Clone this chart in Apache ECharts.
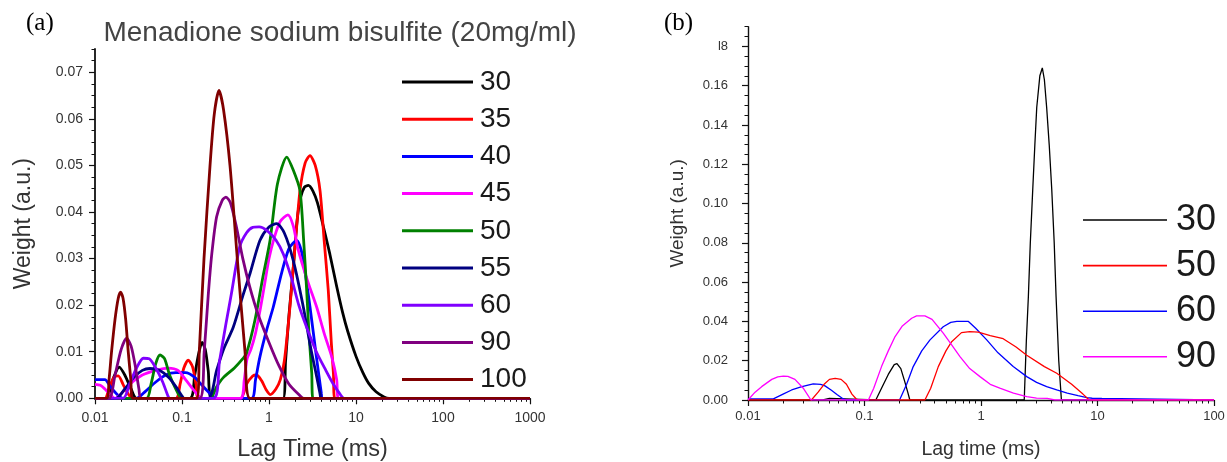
<!DOCTYPE html>
<html>
<head>
<meta charset="utf-8">
<script src="https://cdn.jsdelivr.net/npm/echarts@6/dist/echarts.min.js"></script>
<style>
  html, body { margin: 0; padding: 0; background: #ffffff; }
  #wrap { position: relative; width: 1227px; height: 462px; overflow: hidden; }
  #chartA { position: absolute; left: 0; top: 0; width: 614px; height: 462px; }
  #chartB { position: absolute; left: 614px; top: 0; width: 613px; height: 462px; }
</style>
</head>
<body>
<div id="wrap">
  <div id="chartA"></div>
  <div id="chartB"></div>
</div>
<script>
// ---------- Panel (a): weight distributions, pairs of [lag time (ms), weight] ----------
const namesA = ['30', '35', '40', '45', '50', '55', '60', '90', '100'];
const colorsA = ['#000000', '#ff0000', '#0000ff', '#ff00ff', '#008000', '#000080', '#8000ff', '#800080', '#800000'];

const a30 = [[0.01,0],[0.0135,0],[0.016,0.004],[0.019,0.0067],[0.022,0.005],[0.026,0.002],[0.03,0],
  [0.123,0],[0.14,0.005],[0.155,0.0095],[0.17,0.012],[0.185,0.0105],[0.2,0.006],[0.22,0],
  [1.45,0],[1.55,0.008],[1.7,0.018],[1.9,0.028],[2.1,0.038],[2.3,0.043],[2.55,0.0453],[2.83,0.0457],
  [3.2,0.0445],[3.6,0.042],[4.2,0.037],[5.0,0.031],[6.0,0.024],[7.0,0.0185],[8.0,0.0145],[10,0.009],
  [12,0.0055],[14,0.0032],[17,0.0014],[21,0.0003],[24,0],[1000,0]];
const a35 = [[0.01,0],[0.013,0],[0.0145,0.002],[0.0165,0.0045],[0.0185,0.0048],[0.021,0.003],[0.024,0.001],[0.027,0],
  [0.085,0],[0.095,0.003],[0.105,0.0065],[0.118,0.0082],[0.132,0.0068],[0.145,0.003],[0.155,0],
  [0.47,0],[0.55,0.003],[0.65,0.0048],[0.72,0.005],[0.82,0.0038],[0.93,0.0018],[1.03,0.0008],
  [1.2,0.002],[1.35,0.004],[1.5,0.008],[1.74,0.0196],[2.0,0.033],[2.27,0.0446],[2.6,0.0505],[2.96,0.0521],
  [3.4,0.05],[3.86,0.0446],[4.3,0.034],[4.8,0.0232],[5.2,0.012],[5.5,0.0054],[5.7,0],[1000,0]];
const a40 = [[0.01,0.004],[0.013,0.004],[0.015,0.0025],[0.018,0.0008],[0.021,0],[0.03,0],
  [0.038,0.0015],[0.05,0.0035],[0.065,0.005],[0.085,0.0055],[0.11,0.0055],[0.14,0.0045],[0.17,0.0028],[0.21,0.001],[0.25,0],
  [0.63,0],[0.7,0.004],[0.786,0.0089],[0.95,0.015],[1.12,0.0196],[1.4,0.027],[1.7,0.0322],[2.08,0.0339],
  [2.4,0.031],[2.96,0.0196],[3.5,0.009],[4.0,0.001],[4.1,0],[1000,0]];
const a45 = [[0.01,0.003],[0.0115,0.0028],[0.013,0.002],[0.015,0.0008],[0.017,0],[0.02,0.001],[0.025,0.003],
  [0.035,0.005],[0.05,0.006],[0.07,0.0065],[0.09,0.006],[0.11,0.004],[0.14,0.0015],[0.17,0],
  [0.47,0],[0.52,0.004],[0.56,0.0085],[0.62,0.0105],[0.7,0.014],[0.8,0.0195],[0.9,0.025],[1.0,0.03],
  [1.15,0.0345],[1.35,0.038],[1.65,0.0394],[1.9,0.037],[2.17,0.0318],[2.8,0.025],[3.53,0.0196],
  [4.3,0.014],[5.26,0.0089],[6.0,0.004],[6.3,0],[1000,0]];
const a50 = [[0.01,0],[0.039,0],[0.044,0.003],[0.05,0.0075],[0.056,0.0093],[0.063,0.0085],[0.072,0.005],[0.085,0.002],[0.1,0],
  [0.21,0],[0.25,0.0025],[0.3,0.0045],[0.4,0.0065],[0.5,0.0085],[0.55,0.0096],[0.69,0.0168],[0.85,0.026],
  [1.03,0.034],[1.25,0.046],[1.6,0.0518],[1.9,0.049],[2.27,0.0446],[2.5,0.034],[2.71,0.0232],
  [2.9,0.013],[3.1,0.0054],[3.2,0],[1000,0]];
const a55 = [[0.01,0],[0.0174,0],[0.022,0.002],[0.028,0.0045],[0.035,0.006],[0.043,0.0064],[0.055,0.006],
  [0.07,0.0045],[0.085,0.0025],[0.1,0.0005],[0.106,0],
  [0.2,0],[0.25,0.006],[0.3,0.0105],[0.389,0.0153],[0.5,0.022],[0.605,0.0268],[0.786,0.0339],[1.0,0.0368],
  [1.226,0.0375],[1.5,0.0355],[1.9,0.0296],[2.48,0.0196],[3.0,0.011],[3.5,0.005],[3.86,0.001],[4.0,0],[1000,0]];
const a60 = [[0.01,0],[0.021,0],[0.025,0.003],[0.03,0.0065],[0.036,0.0086],[0.042,0.0085],[0.05,0.0065],
  [0.06,0.0035],[0.069,0.0005],[0.072,0],
  [0.23,0],[0.27,0.008],[0.32,0.016],[0.37,0.0225],[0.46,0.0325],[0.55,0.0355],[0.65,0.0367],[0.77,0.0368],
  [0.95,0.036],[1.2,0.034],[1.46,0.031],[1.8,0.026],[2.2,0.02],[2.7,0.0153],[3.5,0.01],[4.5,0.006],
  [5.5,0.003],[6.5,0.001],[7.3,0],[1000,0]];
const a90 = [[0.01,0],[0.0145,0],[0.017,0.005],[0.02,0.0105],[0.0231,0.0129],[0.026,0.0112],[0.029,0.007],[0.032,0.002],[0.034,0],
  [0.16,0],[0.18,0.01],[0.2,0.022],[0.22,0.031],[0.25,0.039],[0.29,0.0425],[0.32,0.0432],[0.36,0.042],
  [0.42,0.037],[0.5,0.03],[0.6,0.024],[0.75,0.018],[1.0,0.012],[1.3,0.007],[1.7,0.003],[2.2,0.0008],[2.5,0],[1000,0]];
const a100 = [[0.01,0],[0.0136,0],[0.0145,0.004],[0.0155,0.01],[0.017,0.017],[0.0185,0.0215],[0.0197,0.0228],
  [0.021,0.0215],[0.0225,0.017],[0.0241,0.01],[0.0258,0.004],[0.0271,0],
  [0.1476,0],[0.158,0.01],[0.179,0.03],[0.21,0.05],[0.235,0.061],[0.266,0.0661],[0.3,0.062],
  [0.356,0.05],[0.432,0.03],[0.53,0.01],[0.605,0],[1000,0]];
const dataA = [a30, a35, a40, a45, a50, a55, a60, a90, a100];

const xTickLabelsA = ['0.01', '0.1', '1', '10', '100', '1000'];
const yTickLabelsA = ['0.00', '0.01', '0.02', '0.03', '0.04', '0.05', '0.06', '0.07'];

// ---------- Panel (b) ----------
const namesB = ['30', '50', '60', '90'];
const colorsB = ['#000000', '#ff0000', '#0000ff', '#ff00ff'];

const b30 = [[0.01,0],[0.044,0],[0.045,0.0008],[0.05,0.0008],[0.051,0],
  [0.125,0],[0.14,0.006],[0.16,0.013],[0.18,0.018],[0.19,0.0185],[0.205,0.016],[0.22,0.01],[0.235,0.004],[0.245,0],
  [2.35,0],[2.45,0.03],[2.55,0.0526],[2.65,0.08],[2.78,0.107],[2.9,0.13],[3.01,0.149],[3.2,0.165],[3.36,0.169],
  [3.5,0.163],[3.66,0.149],[3.85,0.13],[4.05,0.107],[4.25,0.08],[4.41,0.0526],[4.65,0.02],[4.9,0],[100,0]];
const b50 = [[0.01,0],[0.035,0],[0.04,0.004],[0.045,0.008],[0.05,0.0105],[0.056,0.011],[0.063,0.0105],[0.07,0.008],
  [0.078,0.003],[0.085,0.0005],[0.09,0],
  [0.33,0],[0.37,0.006],[0.43,0.017],[0.5,0.025],[0.56,0.0297],[0.68,0.0343],[0.8,0.0348],[0.95,0.0345],
  [1.2,0.0328],[1.55,0.0312],[2.0,0.027],[2.47,0.0228],[3.5,0.017],[4.47,0.0136],[6.0,0.008],[7.5,0.003],[8.5,0],[100,0]];
const b60 = [[0.01,0.0005],[0.0165,0.0006],[0.02,0.003],[0.0237,0.0051],[0.029,0.0068],[0.0363,0.0082],[0.042,0.008],
  [0.0458,0.0072],[0.052,0.005],[0.058,0.0028],[0.064,0.001],[0.07,0],
  [0.2,0],[0.23,0.008],[0.262,0.017],[0.31,0.025],[0.365,0.0306],[0.474,0.0373],[0.55,0.0395],[0.62,0.04],
  [0.78,0.04],[0.9,0.0365],[1.12,0.0306],[1.4,0.024],[1.89,0.017],[2.47,0.0119],[3.0,0.009],[3.66,0.0068],
  [4.47,0.0051],[5.5,0.0035],[6.8,0.0022],[8.1,0.0012],[9,0.0009],[10.9,0.0008],[11,0],[100,0]];
const b90 = [[0.01,0],[0.0115,0.004],[0.0131,0.0068],[0.016,0.0105],[0.018,0.0118],[0.0201,0.0122],[0.022,0.012],
  [0.0253,0.0105],[0.0298,0.006],[0.0347,0],
  [0.108,0],[0.12,0.006],[0.14,0.017],[0.16,0.025],[0.183,0.0323],[0.21,0.0375],[0.254,0.0416],[0.28,0.0428],
  [0.33,0.0428],[0.38,0.041],[0.474,0.034],[0.56,0.028],[0.66,0.0221],[0.8,0.016],[0.98,0.0119],[1.2,0.008],
  [1.45,0.006],[1.9,0.0035],[2.47,0.0017],[3,0.001],[3.7,0.0008],[4.3,0],[100,0]];
const dataB = [b30, b50, b60, b90];
// stacking order of the lines (last one on top)
const drawOrderB = [0, 2, 1, 3];

const xTickLabelsB = ['0.01', '0.1', '1', '10', '100'];
const yTickValuesB = [0, 0.02, 0.04, 0.06, 0.08, 0.10, 0.12, 0.14, 0.16, 0.18];
const yTickLabelsB = ['0.00', '0.02', '0.04', '0.06', '0.08', '0.10', '0.12', '0.14', '0.16', 'l8'];

// ---------- helpers ----------
const SANS = '"Liberation Sans", Arial, sans-serif';
const SERIF = '"Liberation Serif", "DejaVu Serif", serif';
const AXIS_COLOR = '#111111';
const TEXT_COLOR = '#333333';

// minor ticks 2..9 within each decade, expressed as log10 for a companion linear axis
function logMinorTicks(fromExp, toExp) {
  const out = [];
  for (let e = fromExp; e < toExp; e++) {
    for (let k = 2; k <= 9; k++) out.push(Math.log10(k) + e);
  }
  return out;
}
function linearMinorTicks(step, sub, max) {
  const out = [];
  const n = Math.floor(max / (step / sub) + 1e-6);
  for (let i = 1; i <= n; i++) {
    if (i % sub !== 0) out.push(+(i * step / sub).toFixed(6));
  }
  return out;
}
function decadeLabel(labels, minExp) {
  return v => labels[Math.round(Math.log10(v)) - minExp] || '';
}

function buildOption(p) {
  const series = p.order.map(i => ({
    name: p.names[i],
    type: 'line',
    data: p.data[i],
    symbol: 'none',
    showSymbol: false,
    smooth: p.smooth,
    lineStyle: { color: p.colors[i], width: p.lineWidth },
    itemStyle: { color: p.colors[i] },
    emphasis: { disabled: true },
    xAxisIndex: 0,
    yAxisIndex: 0,
    z: 3
  }));
  return {
    animation: false,
    backgroundColor: '#ffffff',
    textStyle: { fontFamily: SANS },
    grid: { left: p.grid.left, top: p.grid.top, width: p.grid.width, height: p.grid.height, containLabel: false, outerBoundsMode: 'none' },
    graphic: p.graphic,
    legend: {
      orient: 'vertical',
      left: p.legend.left,
      top: p.legend.top,
      padding: 0,
      icon: 'rect',
      itemWidth: p.legend.itemWidth,
      itemHeight: p.legend.lineWidth,
      itemGap: p.legend.itemGap,
      selectedMode: false,
      data: p.names,
      textStyle: { fontSize: p.legend.fontSize, lineHeight: p.legend.rowHeight, color: '#1a1a1a', fontFamily: SANS, padding: [0, 0, 0, p.legend.textPad] }
    },
    xAxis: [{
      type: 'log', logBase: 10, min: p.x.min, max: p.x.max,
      axisLine: { show: true, onZero: false, lineStyle: { color: AXIS_COLOR, width: p.axisWidth } },
      axisTick: { show: true, inside: false, length: 6, lineStyle: { color: AXIS_COLOR, width: 1.2 } },
      axisLabel: { formatter: decadeLabel(p.x.labels, p.x.minExp), margin: p.x.labelMargin, fontSize: p.x.fontSize, color: TEXT_COLOR, fontFamily: SANS },
      splitLine: { show: false },
      minorTick: { show: false },
      name: p.x.name, nameLocation: 'middle', nameGap: p.x.nameGap,
      nameTextStyle: { fontSize: p.x.nameSize, color: TEXT_COLOR, fontFamily: SANS }
    }, {
      type: 'value', min: p.x.minExp, max: p.x.minExp + p.x.labels.length - 1, position: 'bottom', offset: 0,
      axisLine: { show: false, onZero: false }, axisLabel: { show: false }, splitLine: { show: false },
      axisTick: { show: true, inside: false, length: 3.5, customValues: logMinorTicks(p.x.minExp, p.x.minExp + p.x.labels.length - 1), lineStyle: { color: AXIS_COLOR, width: 1 } }
    }],
    yAxis: [{
      type: 'value', min: 0, max: p.y.max, interval: p.y.step,
      axisLine: { show: true, onZero: false, lineStyle: { color: AXIS_COLOR, width: p.axisWidth } },
      axisTick: { show: true, inside: false, length: 6, customValues: p.y.values, lineStyle: { color: AXIS_COLOR, width: 1.2 } },
      axisLabel: { customValues: p.y.values, formatter: v => p.y.labels[p.y.values.findIndex(t => Math.abs(t - v) < 1e-9)] || '', margin: p.y.labelMargin, fontSize: p.y.fontSize, color: TEXT_COLOR, fontFamily: SANS },
      splitLine: { show: false },
      name: p.y.name, nameLocation: 'middle', nameGap: p.y.nameGap, nameRotate: 90,
      nameTextStyle: { fontSize: p.y.nameSize, color: TEXT_COLOR, fontFamily: SANS }
    }, {
      type: 'value', min: 0, max: p.y.max, position: 'left', offset: 0,
      axisLine: { show: false, onZero: false }, axisLabel: { show: false }, splitLine: { show: false },
      axisTick: { show: true, inside: false, length: 3.5, customValues: linearMinorTicks(p.y.step, 4, p.y.max), lineStyle: { color: AXIS_COLOR, width: 1 } }
    }],
    series
  };
}

// ---------- panel (a) ----------
const chartA = echarts.init(document.getElementById('chartA'), null, { renderer: 'canvas' });
chartA.setOption(buildOption({
  names: namesA, colors: colorsA, data: dataA, order: namesA.map((_, i) => i),
  smooth: 0.25, lineWidth: 2.8, axisWidth: 1.8,
  grid: { left: 95, top: 49, width: 435, height: 349.3 },
  legend: { left: 402, top: 67, itemWidth: 71, lineWidth: 3, rowHeight: 30, itemGap: 7.2, fontSize: 28, textPad: 2 },
  x: { min: 0.01, max: 1000, minExp: -2, labels: xTickLabelsA, labelMargin: 13, fontSize: 14, name: 'Lag Time (ms)', nameGap: 39, nameSize: 23.5 },
  y: { max: 0.075, step: 0.01, values: yTickLabelsA.map(Number), labels: yTickLabelsA, labelMargin: 12, fontSize: 14, name: 'Weight (a.u.)', nameGap: 60, nameSize: 23 },
  graphic: [
    { type: 'text', x: 26, y: 11, style: { text: '(a)', font: '25px ' + SERIF, fill: '#000000' } },
    { type: 'text', x: 340, y: 33, style: { text: 'Menadione sodium bisulfite (20mg/ml)', font: '28px ' + SANS, fill: '#444444', textAlign: 'center', textVerticalAlign: 'middle' } }
  ]
}));

// ---------- panel (b) ----------
const chartB = echarts.init(document.getElementById('chartB'), null, { renderer: 'canvas' });
chartB.setOption(buildOption({
  names: namesB, colors: colorsB, data: dataB, order: drawOrderB,
  smooth: false, lineWidth: 1.3, axisWidth: 1.4,
  grid: { left: 134, top: 26.7, width: 466, height: 373.3 },
  legend: { left: 469, top: 200, itemWidth: 84, lineWidth: 1.6, rowHeight: 40, itemGap: 5.6, fontSize: 36, textPad: 4 },
  x: { min: 0.01, max: 100, minExp: -2, labels: xTickLabelsB, labelMargin: 10, fontSize: 13, name: 'Lag time (ms)', nameGap: 40, nameSize: 19.5 },
  y: { max: 0.19, step: 0.02, values: yTickValuesB, labels: yTickLabelsB, labelMargin: 20, fontSize: 13, name: 'Weight (a.u.)', nameGap: 61, nameSize: 19 },
  graphic: [
    { type: 'text', x: 50, y: 11, style: { text: '(b)', font: '25px ' + SERIF, fill: '#000000' } }
  ]
}));
</script>
</body>
</html>
